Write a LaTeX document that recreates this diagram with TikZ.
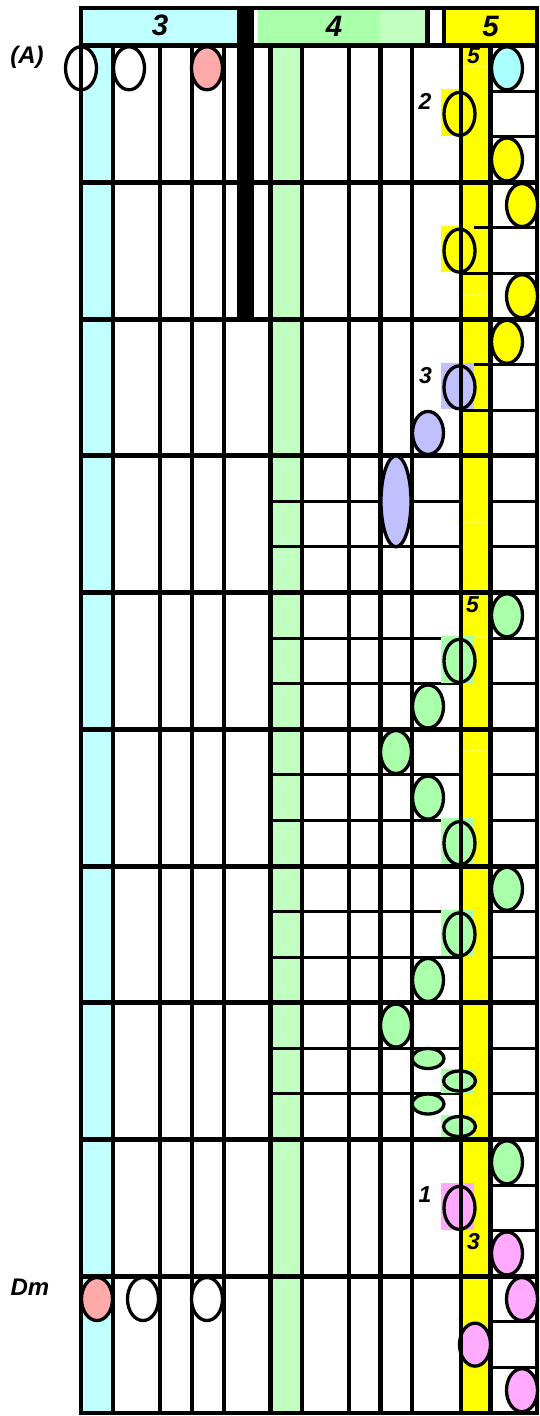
\documentclass[tikz,border=0pt]{standalone}
\usepackage{fontspec}
\setmainfont{Liberation Sans}
\usetikzlibrary{shapes.geometric}
\definecolor{cyancol}{HTML}{C0FFFF}
\definecolor{greencol}{HTML}{C0FFC0}
\definecolor{greenhead}{HTML}{AAFFAA}
\definecolor{yel}{HTML}{FFFF00}
\definecolor{pinkred}{HTML}{FFAAAA}
\definecolor{cyanell}{HTML}{AAFFFF}
\definecolor{lav}{HTML}{C0C0FF}
\definecolor{greenell}{HTML}{AAFFAA}
\definecolor{pinkell}{HTML}{FFAAFF}
\newcommand\subrowy[1]{45.5+45.583*(#1+0.5)}
\tikzset{
  ovalbase/.style={ellipse, draw=black, line width=3.3pt, inner sep=0pt, minimum width=31pt, minimum height=43pt},
  flatoval/.style={ovalbase, minimum width=32pt, minimum height=20pt},
  talloval/.style={ovalbase, minimum width=30pt, minimum height=91pt},
  lbl/.style={font=\fontsize{23}{23}\selectfont\bfseries\itshape, inner sep=0pt},
  chordlbl/.style={font=\fontsize{24}{24}\selectfont\bfseries\itshape, inner sep=0pt},
  headlbl/.style={font=\fontsize{29.5}{29.5}\selectfont\bfseries\itshape, inner sep=0pt},
  gridthick/.style={line width=5pt},
  gridthin/.style={line width=3pt},
  gridvert/.style={line width=4.2pt},
}
\begin{document}
\begin{tikzpicture}[x=1pt,y=-1pt]
\useasboundingbox (0,0) rectangle (539,1416);
\fill[white] (0,0) rectangle (539,1416);
% column fills
\fill[cyancol] (81,45.5) rectangle (113,1413);
\fill[greencol] (270.5,45.5) rectangle (302,1413);
\fill[yel] (461,45.5) rectangle (490.5,1413);
% header
\fill[cyancol] (81,8) rectangle (237,45.5);
\fill[greenhead] (258,8) rectangle (380,45.5);
\fill[greencol] (380,8) rectangle (427,45.5);
\fill[yel] (444,8) rectangle (537,45.5);
\fill[black] (237,6) rectangle (254,319);
\draw[line width=5pt] (427.5,8) -- (427.5,45.5);
\draw[line width=4pt] (444,8) -- (444,45.5);
% faint ticks
\foreach \m in {0,...,11} {
  \pgfmathsetmacro\ty{66.7+113.9*\m}
  \draw[cyancol, line width=1pt] (79,\ty) -- (114,\ty);
  \draw[greencol, line width=1pt] (268,\ty) -- (303,\ty);
  \draw[yel!70!white, line width=1pt] (457,\ty) -- (491,\ty);
}
% thin sub-lines
\foreach \k/\xa in {0/490.5, 1/461, 2/461, 8/490.5, 9/490.5} {
  \foreach \s in {1,2} {
    \pgfmathsetmacro\ly{45.5+136.75*\k+45.583*\s}
    \draw[gridthin] (\xa,\ly) -- (537,\ly);
  }
}
\foreach \k in {3,...,7} {
  \foreach \s in {1,2} {
    \pgfmathsetmacro\ly{45.5+136.75*\k+45.583*\s}
    \draw[gridthin] (270.5,\ly) -- (461,\ly);
    \draw[gridthin] (490.5,\ly) -- (537,\ly);
  }
}
% highlight squares behind ellipses on the 461 line
\foreach \j/\c in {1/yel, 4/yel, 7/lav, 13/greenell, 17/greenell, 19/greenell, 25/pinkell} {
  \pgfmathsetmacro\sa{45.5+45.583*\j-2}
  \pgfmathsetmacro\sb{45.5+45.583*(\j+1)-1}
  \fill[\c] (441,\sa) rectangle (473.5,\sb);
}
\fill[greenell] (441,1069) rectangle (473.5,1093);
\fill[greenell] (441,1115) rectangle (473.5,1139);
% thick lines
\foreach \k in {0,...,9} {
  \pgfmathsetmacro\ly{45.5+136.75*\k}
  \draw[gridthick] (81,\ly) -- (537,\ly);
}
% vertical lines
\foreach \x in {113,160,192,224,270.5,302,349,380.5,412,461,490.5}
  \draw[gridvert] (\x,45.5) -- (\x,1413);
% frame
\draw[line width=4.2pt] (81,8) rectangle (537,1413);
% header labels
\node[headlbl] (h3) at (160,25.5) {3};
\node[headlbl] (h4) at (334,26.5) {4};
\node[headlbl] (h5) at (490.5,26) {5};
% chord labels
\node[chordlbl] (chA) at (27,57) {(A)};
\node[chordlbl] (chDm) at (30,1287.5) {Dm};
% ellipses
\node[ovalbase, fill=white] (e1) at (81,{\subrowy{0}}) {};
\node[ovalbase, fill=white] (e2) at (129,{\subrowy{0}}) {};
\node[ovalbase, fill=pinkred] (e3) at (207,{\subrowy{0}}) {};
\node[ovalbase, fill=cyanell] (e4) at (507,{\subrowy{0}}) {};
\node[ovalbase, fill=yel] (e5) at (459.5,{\subrowy{1}}) {};
\node[ovalbase, fill=yel] (e6) at (507,{\subrowy{2}}) {};
\node[ovalbase, fill=yel] (e7) at (522,{\subrowy{3}}) {};
\node[ovalbase, fill=yel] (e8) at (459.5,{\subrowy{4}}) {};
\node[ovalbase, fill=yel] (e9) at (522,{\subrowy{5}}) {};
\node[ovalbase, fill=yel] (e10) at (507,{\subrowy{6}}) {};
\node[ovalbase, fill=lav] (e11) at (459.5,{\subrowy{7}}) {};
\node[ovalbase, fill=lav] (e12) at (428,{\subrowy{8}}) {};
\node[talloval, fill=lav] (e13) at (396,{\subrowy{9.5}}) {};
\node[ovalbase, fill=greenell] (e14) at (507,{\subrowy{12}}) {};
\node[ovalbase, fill=greenell] (e15) at (459.5,{\subrowy{13}}) {};
\node[ovalbase, fill=greenell] (e16) at (428,{\subrowy{14}}) {};
\node[ovalbase, fill=greenell] (e17) at (396,{\subrowy{15}}) {};
\node[ovalbase, fill=greenell] (e18) at (428,{\subrowy{16}}) {};
\node[ovalbase, fill=greenell] (e19) at (459.5,{\subrowy{17}}) {};
\node[ovalbase, fill=greenell] (e20) at (507,{\subrowy{18}}) {};
\node[ovalbase, fill=greenell] (e21) at (459.5,{\subrowy{19}}) {};
\node[ovalbase, fill=greenell] (e22) at (428,{\subrowy{20}}) {};
\node[ovalbase, fill=greenell] (e23) at (396,{\subrowy{21}}) {};
\node[flatoval, fill=greenell] (e24) at (428,1058.5) {};
\node[flatoval, fill=greenell] (e25) at (459.5,1081) {};
\node[flatoval, fill=greenell] (e26) at (428,1104) {};
\node[flatoval, fill=greenell] (e27) at (459.5,1126.5) {};
\node[ovalbase, fill=greenell] (e28) at (507,{\subrowy{24}}) {};
\node[ovalbase, fill=pinkell] (e29) at (459.5,{\subrowy{25}}) {};
\node[ovalbase, fill=pinkell] (e30) at (507,{\subrowy{26}}) {};
\node[ovalbase, fill=pinkell] (e31) at (522,{\subrowy{27}}) {};
\node[ovalbase, fill=pinkred] (e32) at (97,{\subrowy{27}}) {};
\node[ovalbase, fill=white] (e33) at (143,{\subrowy{27}}) {};
\node[ovalbase, fill=white] (e34) at (207,{\subrowy{27}}) {};
\node[ovalbase, fill=pinkell] (e35) at (475,{\subrowy{28}}) {};
\node[ovalbase, fill=pinkell] (e36) at (522,{\subrowy{29}}) {};
% lines drawn over ellipses
\draw[gridvert] (461,45.5) -- (461,1413);
\draw[line width=4.2pt] (81,8) -- (81,1413);
% finger labels
\node[lbl] (f5a) at (473.5,55.5) {5};
\node[lbl] (f2) at (425,101.5) {2};
\node[lbl] (f3a) at (425.5,376) {3};
\node[lbl] (f5b) at (472.5,604.5) {5};
\node[lbl] (f1) at (425,1195) {1};
\node[lbl] (f3b) at (473.5,1242) {3};
\end{tikzpicture}
\end{document}
